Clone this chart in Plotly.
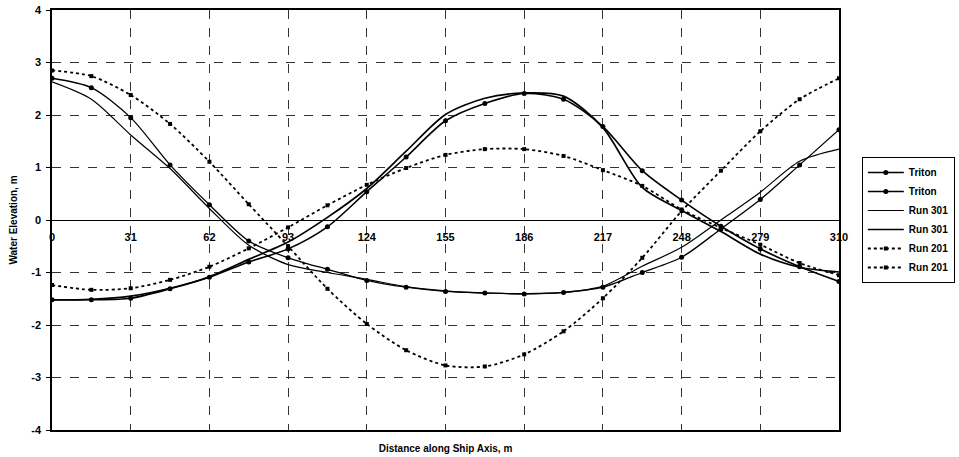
import plotly.graph_objects as go

# Distance along the ship axis (m) at which the wave profiles are sampled
distance = [0, 15.5, 31, 46.5, 62, 77.5, 93, 108.5, 124, 139.5, 155,
            170.5, 186, 201.5, 217, 232.5, 248, 263.5, 279, 294.5, 310]

# Water elevation (m) for each profile
triton_a = [2.70, 2.52, 1.95, 1.05, 0.29, -0.40, -0.72, -0.94, -1.15, -1.28, -1.36,
            -1.39, -1.41, -1.38, -1.28, -1.00, -0.71, -0.17, 0.39, 1.05, 1.72]
triton_b = [-1.52, -1.52, -1.49, -1.31, -1.09, -0.80, -0.55, -0.13, 0.54, 1.20, 1.89,
            2.22, 2.41, 2.30, 1.78, 0.94, 0.38, -0.12, -0.55, -0.89, -1.17]
run301_a = [2.63, 2.30, 1.62, 0.98, 0.22, -0.48, -0.85, -1.00, -1.13, -1.27, -1.35,
            -1.39, -1.40, -1.38, -1.26, -0.88, -0.52, 0.00, 0.53, 1.12, 1.35]
run301_b = [-1.52, -1.51, -1.45, -1.30, -1.08, -0.75, -0.42, 0.05, 0.60, 1.31, 2.01,
            2.32, 2.42, 2.36, 1.76, 0.62, 0.18, -0.22, -0.65, -0.90, -0.99]
run201_a = [2.85, 2.74, 2.38, 1.83, 1.11, 0.30, -0.50, -1.31, -1.98, -2.48, -2.77,
            -2.79, -2.56, -2.12, -1.49, -0.72, 0.17, 0.94, 1.69, 2.30, 2.70]
run201_b = [-1.24, -1.33, -1.30, -1.14, -0.89, -0.54, -0.14, 0.28, 0.67, 0.99, 1.24,
            1.35, 1.35, 1.22, 0.95, 0.65, 0.20, -0.15, -0.47, -0.82, -1.05]

x_ticks = [0, 31, 62, 93, 124, 155, 186, 217, 248, 279, 310]
y_ticks = [-4, -3, -2, -1, 0, 1, 2, 3, 4]

FONT = "Liberation Sans, Arial, sans-serif"

fig = go.Figure()

def add_series(name, y, width, dash, marker):
    fig.add_trace(go.Scatter(
        x=distance, y=y, name=name,
        mode="lines+markers" if marker else "lines",
        line=dict(color="black", width=width, dash=dash, shape="spline", smoothing=0.8),
        marker=dict(color="black", size=5 if marker == "circle" else 4, symbol=marker or "circle"),
    ))

add_series("Triton", triton_a, 1.3, "solid", "circle")
add_series("Triton", triton_b, 1.6, "solid", "circle")
add_series("Run 301", run301_a, 1.2, "solid", None)
add_series("Run 301", run301_b, 1.7, "solid", None)
add_series("Run 201", run201_a, 1.8, "dot", "square")
add_series("Run 201", run201_b, 1.8, "dot", "square")

# invisible trace that carries the tick labels drawn along the zero line
fig.add_trace(go.Scatter(x=[0, 310], y=[0, 0], xaxis="x2", mode="lines",
                         line=dict(width=0), showlegend=False, hoverinfo="skip"))

fig.update_layout(
    width=959, height=457,
    margin=dict(l=52, r=120, t=10, b=27, autoexpand=False),
    paper_bgcolor="white", plot_bgcolor="white",
    font=dict(family=FONT, color="black", size=10),
    showlegend=True,
    legend=dict(
        x=1.029, y=0.5, xanchor="left", yanchor="middle",
        bordercolor="black", borderwidth=1, bgcolor="white",
        font=dict(family=FONT, size=10, weight="bold"),
        tracegroupgap=0, itemwidth=36,
    ),
    xaxis=dict(
        range=[0, 310], tickvals=x_ticks, showticklabels=False,
        showgrid=True, gridcolor="#333333", griddash="dash", gridwidth=1,
        showline=True, linecolor="black", linewidth=1.5, mirror=True,
        zeroline=False, ticks="", automargin=False,
        title=dict(text="Distance along Ship Axis, m", standoff=14,
                   font=dict(family=FONT, size=10, weight="bold")),
    ),
    xaxis2=dict(
        overlaying="x", anchor="free", position=0.5, range=[0, 310],
        tickvals=x_ticks, ticktext=[str(v) for v in x_ticks],
        showgrid=False, showline=False, zeroline=False, ticks="",
        ticklabelstandoff=9, automargin=False,
        side="bottom", tickfont=dict(family=FONT, size=11, weight="bold"),
    ),
    yaxis=dict(
        range=[-4, 4], tickvals=y_ticks, ticktext=[str(v) for v in y_ticks],
        showgrid=True, gridcolor="#333333", griddash="dash", gridwidth=1,
        showline=True, linecolor="black", linewidth=1.5, mirror=True,
        zeroline=True, zerolinecolor="black", zerolinewidth=1.2,
        ticks="outside", ticklen=4, tickcolor="black", ticklabelstandoff=3,
        automargin=False,
        tickfont=dict(family=FONT, size=11, weight="bold"),
        title=dict(text="Water Elevation, m", standoff=12,
                   font=dict(family=FONT, size=10, weight="bold")),
    ),
)

fig.write_html("out.html")
